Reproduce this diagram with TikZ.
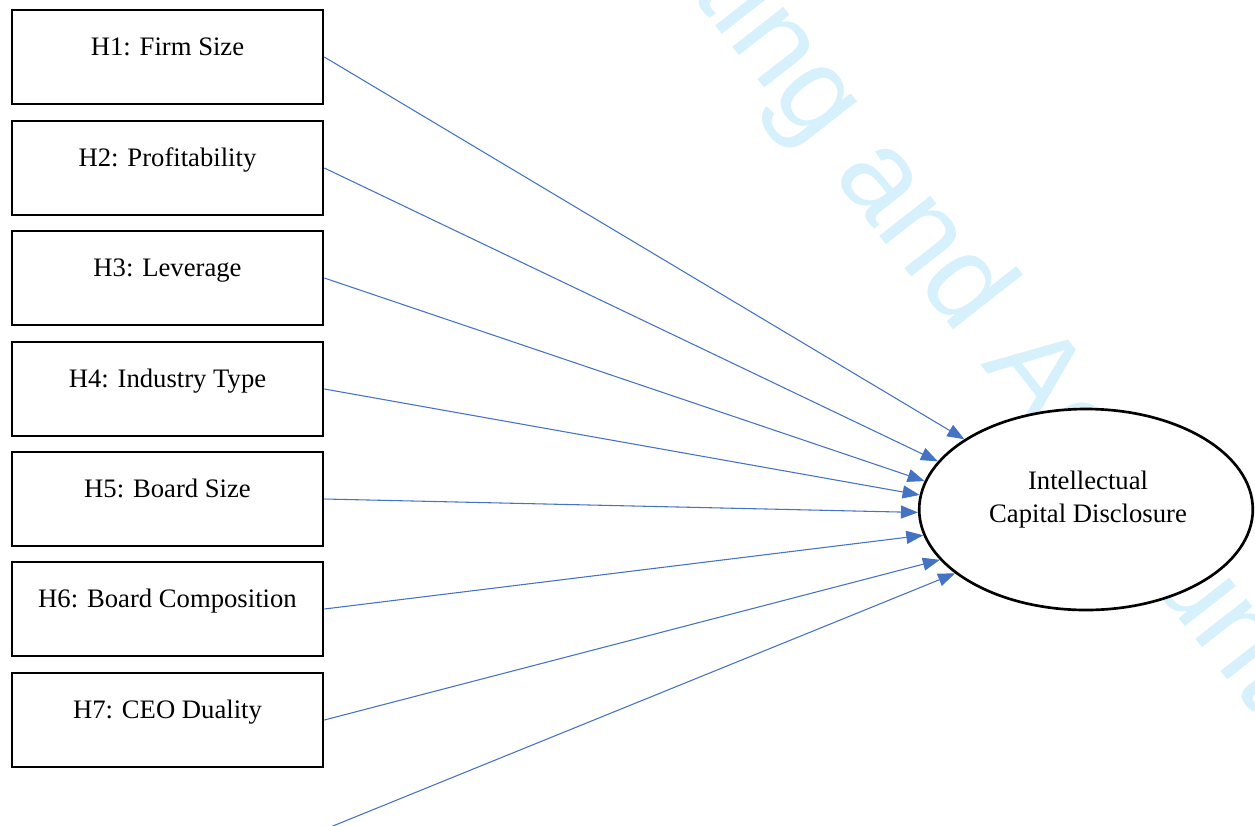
\documentclass[tikz,border=0pt]{standalone}
\usepackage{fontspec}
\setmainfont{Liberation Serif}
\newfontfamily\wmfont{Liberation Sans}
\usetikzlibrary{arrows.meta,shapes.geometric}
\definecolor{wmblue}{RGB}{214,240,252}
\definecolor{arrowblue}{RGB}{68,114,196}
\begin{document}
\begin{tikzpicture}[x=0.75pt,y=-0.75pt,
  wm/.style={font=\wmfont\fontsize{92}{110}\selectfont, text=wmblue, inner sep=0pt, rotate=-52},
  hbox/.style={draw=black, line width=2pt, minimum width=233.25pt, minimum height=70.5pt,
    inner xsep=0pt, inner ysep=0pt, text height=33.75pt, text depth=36.75pt,
    font=\fontsize{20}{24}\selectfont},
  icdshape/.style={ellipse, draw=black, line width=2pt, fill=white,
    minimum width=250.2pt, minimum height=150.75pt, inner sep=0pt},
  icdtxt/.style={font=\fontsize{20}{24}\selectfont, inner sep=0pt, anchor=base},
  link/.style={draw=arrowblue, line width=0.8pt, -{Triangle[length=12.75pt, width=9.75pt, fill=arrowblue]}}
]
\useasboundingbox (0,0) rectangle (1255,825);
\clip (0,0) rectangle (1255,825);
% watermark
\node[wm, anchor=base west] (wmA) at (980,364) {Accounting};
\node[wm, anchor=base east] (wmB) at (wmA.base west) {Journal of Financial Reporting and\kern0.278em};
% outcome
\node[icdshape] (icd) at (1086,509.5) {};
\node[icdtxt] (icdt1) at (1088,489) {Intellectual};
\node[icdtxt] (icdt2) at (1088,522) {Capital Disclosure};
% hypothesis boxes
\node[hbox] (h1) at (167.5,57) {H1: Firm Size};
\node[hbox] (h2) at (167.5,168) {H2: Profitability};
\node[hbox] (h3) at (167.5,278) {H3: Leverage};
\node[hbox] (h4) at (167.5,389) {H4: Industry Type};
\node[hbox] (h5) at (167.5,499) {H5: Board Size};
\node[hbox] (h6) at (167.5,609) {H6: Board Composition};
\node[hbox] (h7) at (167.5,720) {H7: CEO Duality};
\coordinate (h8) at (323,830);
% connectors
\draw[link] (h1.east) -- (icd.150.4);
\draw[link] (h2.east) -- (icd.162);
\draw[link] (h3.east) -- (icd.170.9);
\draw[link] (h4.east) -- (icd.175.8);
\draw[link] (h5.east) -- (icd.181.2);
\draw[link] (h6.east) -- (icd.189.8);
\draw[link] (h7.east) -- (icd.199);
\draw[link] (h8) -- (icd.206.4);
\end{tikzpicture}
\end{document}
